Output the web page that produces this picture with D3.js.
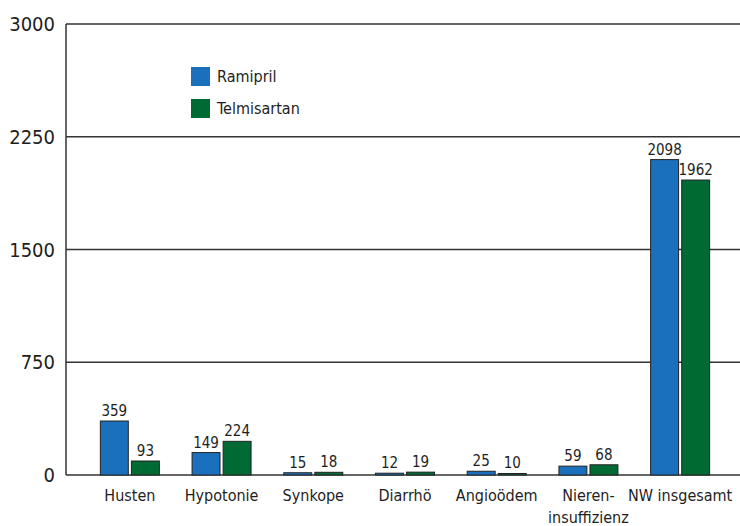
<!DOCTYPE html>
<meta charset="utf-8">
<style>
body { margin: 0; background: #fff; }
text { font-family: "DejaVu Sans Condensed", "Liberation Sans Narrow", sans-serif; fill: #1e1e1e; }
</style>
<svg width="740" height="526"></svg>
<script src="https://d3js.org/d3.v7.min.js"></script>
<script>

var categories = ["Husten", "Hypotonie", "Synkope", "Diarrhö", "Angioödem", "Nieren-\ninsuffizienz", "NW insgesamt"];
var series = ["Ramipril", "Telmisartan"];
var ramipril = [359, 149, 15, 12, 25, 59, 2098];
var telmisartan = [93, 224, 18, 19, 10, 68, 1962];
var yTicks = [0, 750, 1500, 2250, 3000];
var colors = ["#1b70bd", "#006a35"];

var svg = d3.select("svg");

var y = d3.scaleLinear().domain([0, 3000]).range([475, 24]);
var x = d3.scaleBand().domain(categories).range([84, 726]);
var xs = d3.scaleBand().domain(series).range([-29.5, 29.5]).paddingInner(0.1);

// grid
svg.append("g").selectAll("line")
  .data(yTicks)
  .enter().append("line")
  .attr("x1", 66).attr("x2", 740)
  .attr("y1", function(d) { return y(d); })
  .attr("y2", function(d) { return y(d); })
  .attr("stroke", "#333").attr("stroke-width", 1.5);

svg.append("line")
  .attr("x1", 66).attr("x2", 66)
  .attr("y1", y(3000)).attr("y2", y(0))
  .attr("stroke", "#333").attr("stroke-width", 1.5);

svg.append("g").selectAll("text")
  .data(yTicks)
  .enter().append("text")
  .attr("x", 55)
  .attr("y", function(d) { return y(d) + 7; })
  .attr("text-anchor", "end")
  .style("font-size", "20px")
  .text(function(d) { return d; });

var rows = categories.map(function(c, i) {
  return [{cat: c, s: series[0], v: ramipril[i]}, {cat: c, s: series[1], v: telmisartan[i]}];
});

var grp = svg.append("g").selectAll("g")
  .data(rows)
  .enter().append("g")
  .attr("transform", function(d) { return "translate(" + (x(d[0].cat) + x.bandwidth() / 2) + ",0)"; });

grp.selectAll("rect")
  .data(function(d) { return d; })
  .enter().append("rect")
  .attr("x", function(d) { return xs(d.s); })
  .attr("width", xs.bandwidth())
  .attr("y", function(d) { return y(d.v); })
  .attr("height", function(d) { return y(0) - y(d.v); })
  .attr("fill", function(d, i) { return colors[i]; })
  .attr("stroke", "#222").attr("stroke-width", 1);

grp.selectAll("text.val")
  .data(function(d) { return d; })
  .enter().append("text")
  .attr("class", "val")
  .attr("x", function(d) { return xs(d.s) + xs.bandwidth() / 2; })
  .attr("y", function(d) { return y(d.v) - 5; })
  .attr("text-anchor", "middle")
  .style("font-size", "15px")
  .text(function(d) { return d.v; });

// category labels
svg.append("g").selectAll("text")
  .data(categories)
  .enter().append("text")
  .attr("x", function(d) { return x(d) + x.bandwidth() / 2; })
  .attr("y", 501)
  .attr("text-anchor", "middle")
  .style("font-size", "16px")
  .each(function(d) {
    var parts = d.split("\n");
    var t = d3.select(this);
    parts.forEach(function(p, k) {
      t.append("tspan").attr("x", x(d) + x.bandwidth() / 2).attr("dy", k ? 22 : 0).text(p);
    });
  });

// legend
var leg = svg.append("g").selectAll("g")
  .data(series)
  .enter().append("g")
  .attr("transform", function(d, i) { return "translate(191," + (67 + i * 32) + ")"; });
leg.append("rect").attr("width", 19).attr("height", 19)
  .attr("fill", function(d, i) { return colors[i]; });
leg.append("text").attr("x", 26).attr("y", 15)
  .style("font-size", "16px")
  .text(function(d) { return d; });

</script>
